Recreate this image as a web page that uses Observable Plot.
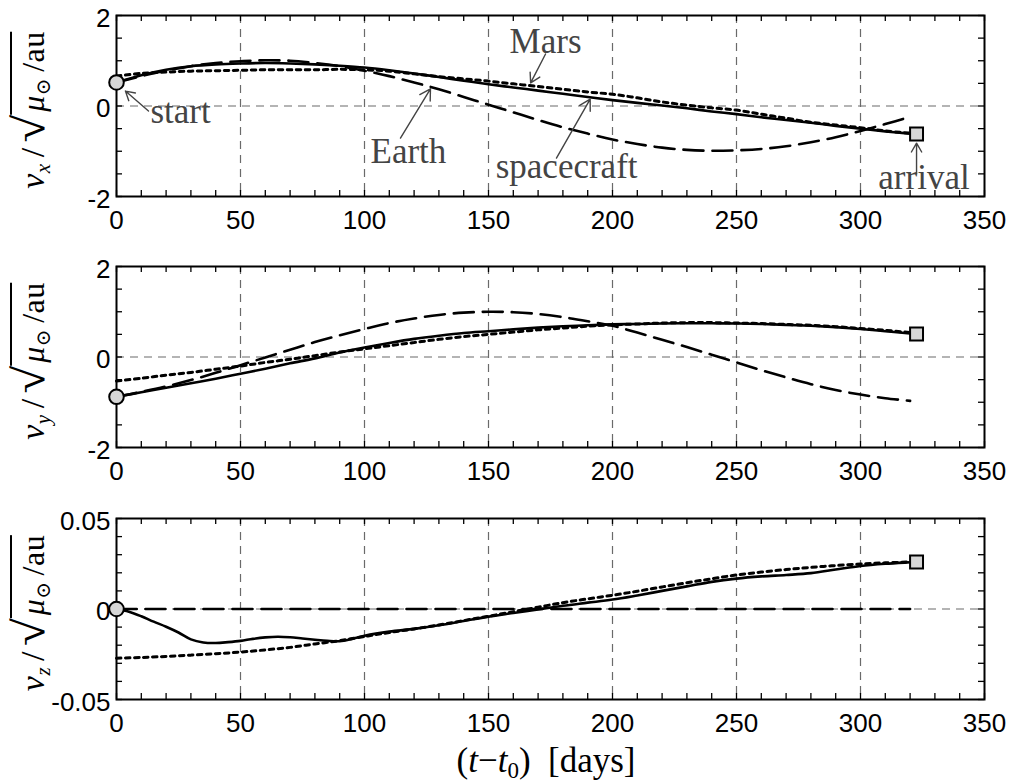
<!DOCTYPE html>
<html>
<head>
<meta charset="utf-8">
<script src="https://cdn.jsdelivr.net/npm/d3@7"></script>
<script src="https://cdn.jsdelivr.net/npm/@observablehq/plot@0.6"></script>
<style>
  body { margin: 0; background: #fff; }
  #wrap { position: relative; width: 1013px; height: 782px; background: #fff; overflow: hidden; }
  .panel { position: absolute; left: 0; }
  .ylab { position: absolute; font-family: "Liberation Serif", "DejaVu Serif", serif; font-size: 32px;
          white-space: nowrap; line-height: 1; transform: translate(-50%, -50%) rotate(-90deg); color: #000; letter-spacing: 0.5px; }
  .ylab .v { font-style: italic; font-size: 34px; }
  .ylab .s { font-style: italic; font-size: 21px; vertical-align: -6px; }
  .ylab .sl { font-size: 34px; margin: 0 7px 0 6px; }
  .ylab .rad { font-size: 44px; display: inline-block; transform: scaleX(1.15); margin-right: 1px; }
  .ylab .ov { border-top: 2px solid #000; padding-top: 3px; padding-left: 3px; }
  .ylab .mu { font-style: italic; }
  .ylab .sun { font-size: 20px; vertical-align: -6px; margin-right: 6px; }
  .xlab { position: absolute; font-family: "Liberation Serif", "DejaVu Serif", serif; font-size: 35px;
          white-space: nowrap; line-height: 1; transform: translateX(-50%); color: #000; }
  .xlab i { font-style: italic; }
  .xlab sub { font-size: 23px; vertical-align: -6px; }
</style>
</head>
<body>
<div id="wrap"></div>
<script>
// ---------- data ----------
const days = [0,10,20,30,40,50,60,70,80,90,100,110,120,130,140,150,160,170,180,190,200,210,220,230,240,250,260,270,280,290,300,310,320];
const scDays = [0,10,20,30,40,50,60,70,80,90,100,110,120,130,140,150,160,170,180,190,200,210,220,230,240,250,260,270,280,290,300,310,320,322.6];

// v_x
const scVx    = [0.52,0.68,0.80,0.88,0.92,0.94,0.95,0.94,0.92,0.89,0.85,0.79,0.72,0.64,0.56,0.48,0.41,0.34,0.27,0.20,0.13,0.07,0.01,-0.05,-0.12,-0.18,-0.25,-0.31,-0.37,-0.44,-0.50,-0.56,-0.61,-0.62];
const earthVx = [0.52,0.66,0.78,0.88,0.95,0.99,1.01,1.00,0.95,0.88,0.78,0.66,0.52,0.37,0.20,0.03,-0.14,-0.31,-0.47,-0.61,-0.74,-0.84,-0.92,-0.97,-0.99,-0.98,-0.95,-0.89,-0.80,-0.69,-0.55,-0.40,-0.24];
const marsVx  = [0.66,0.72,0.75,0.77,0.78,0.79,0.80,0.80,0.80,0.81,0.80,0.77,0.71,0.65,0.60,0.55,0.49,0.43,0.37,0.31,0.26,0.18,0.09,0.02,-0.04,-0.09,-0.18,-0.27,-0.36,-0.42,-0.48,-0.55,-0.60];

// v_y
const scVy    = [-0.88,-0.78,-0.68,-0.58,-0.48,-0.37,-0.26,-0.14,-0.03,0.10,0.21,0.31,0.40,0.47,0.53,0.57,0.61,0.65,0.68,0.70,0.72,0.73,0.74,0.745,0.745,0.74,0.73,0.71,0.69,0.66,0.62,0.57,0.52,0.51];
const earthVy = [-0.88,-0.77,-0.65,-0.51,-0.35,-0.18,-0.01,0.16,0.33,0.48,0.62,0.75,0.85,0.93,0.98,1.00,0.99,0.95,0.88,0.79,0.69,0.54,0.38,0.22,0.05,-0.12,-0.29,-0.45,-0.60,-0.73,-0.83,-0.91,-0.97];
const marsVy  = [-0.53,-0.47,-0.40,-0.34,-0.27,-0.20,-0.12,-0.05,0.03,0.11,0.18,0.25,0.32,0.39,0.45,0.50,0.55,0.60,0.64,0.68,0.71,0.73,0.75,0.76,0.76,0.75,0.74,0.72,0.70,0.67,0.63,0.59,0.54];

// v_z
const vzScDays = [0,5,10,15,20,25,30,35,40,45,50,55,60,65,70,75,80,85,90,95,100,110,120,130,140,150,160,170,180,190,200,210,220,230,240,250,260,270,280,290,300,310,320,322.6];
const scVz    = [0,-0.0015,-0.004,-0.007,-0.0098,-0.013,-0.0168,-0.0185,-0.0188,-0.0183,-0.0176,-0.0165,-0.0157,-0.0153,-0.0156,-0.0163,-0.017,-0.0176,-0.0178,-0.0165,-0.0148,-0.0125,-0.011,-0.009,-0.0066,-0.0042,-0.0022,-0.0002,0.0018,0.0035,0.0052,0.0075,0.010,0.0125,0.015,0.0168,0.018,0.0188,0.0198,0.0218,0.0238,0.025,0.0258,0.026];
const earthVz = [0,0,0,0,0,0,0,0,0,0,0,0,0,0,0,0,0,0,0,0,0,0,0,0,0,0,0,0,0,0,0,0,0];
const marsVz  = [-0.0272,-0.0268,-0.0262,-0.0255,-0.0247,-0.0238,-0.0226,-0.0212,-0.0193,-0.0175,-0.0152,-0.013,-0.011,-0.0088,-0.0064,-0.004,-0.0015,0.001,0.0035,0.0056,0.0076,0.0098,0.0122,0.0145,0.0167,0.0188,0.0204,0.0218,0.023,0.024,0.0249,0.0255,0.026];

// ticks
const xMajor = [0,50,100,150,200,250,300,350];
const xMinor = [0,10,20,30,40,50,60,70,80,90,100,110,120,130,140,150,160,170,180,190,200,210,220,230,240,250,260,270,280,290,300,310,320,330,340,350];
const xGrid  = [50,100,150,200,250,300];
const yTicksA = [-2,0,2];
const yMinorA = [-2,-1.5,-1,-0.5,0,0.5,1,1.5,2];
const yTicksB = [-0.05,0,0.05];
const yMinorB = [-0.05,-0.04,-0.03,-0.02,-0.01,0,0.01,0.02,0.03,0.04,0.05];

// annotations (panel 1)
const annLabels = ["start","Earth","spacecraft","Mars","arrival"];
const annTextX  = [13.7, 117.7, 181.5, 173, 325.6];
const annTextY  = [-0.13, -1.02, -1.35, 1.41, -1.59];
const annAnchor = ["start","middle","middle","middle","middle"];
const annFromX  = [12.9, 114.5, 177.4, 173, 322.6];
const annFromY  = [-0.11, -0.71, -1.15, 1.15, -1.50];
const annToX    = [3.6, 126.6, 191, 167, 322.6];
const annToY    = [0.33, 0.38, 0.15, 0.51, -0.82];

// ---------- drawing ----------
const tbl = (xs, ys) => xs.map((d, i) => ({day: d, v: ys[i]}));
const FH = 181, FW = 868, TK = 6;
const gridStyle = {stroke: "#6a6a6a", strokeWidth: 1.2, strokeDasharray: "8,6"};
const tickStyle = {stroke: "#000", strokeWidth: 1.3};

function panel(sc, earth, mars, scX, yDomain, yTicks, yMinor, extra) {
  const scData = tbl(scX, sc);
  return Plot.plot({
    width: 1013, height: 241,
    marginTop: 15, marginBottom: 45, marginLeft: 116, marginRight: 29,
    x: {domain: [0, 350], label: null},
    y: {domain: yDomain, label: null},
    style: {fontFamily: '"Liberation Sans", Arial, sans-serif', background: "transparent", overflow: "visible", color: "#000"},
    marks: [
      Plot.ruleX(xGrid, gridStyle),
      Plot.ruleY([0], gridStyle),
      Plot.ruleX(xMinor, {...tickStyle, insetTop: FH - TK}),
      Plot.ruleX(xMinor, {...tickStyle, insetBottom: FH - TK}),
      Plot.ruleY(yMinor, {...tickStyle, insetRight: FW - TK}),
      Plot.ruleY(yMinor, {...tickStyle, insetLeft: FW - TK}),
      Plot.line(tbl(days, earth), {x: "day", y: "v", stroke: "#000", strokeWidth: 2.6, strokeDasharray: "20,9", curve: "catmull-rom"}),
      Plot.line(tbl(days, mars), {x: "day", y: "v", stroke: "#000", strokeWidth: 3, strokeDasharray: "4.5,4.5", curve: "catmull-rom"}),
      Plot.line(scData, {x: "day", y: "v", stroke: "#000", strokeWidth: 2.6, curve: "catmull-rom"}),
      Plot.frame({stroke: "#000", strokeWidth: 2}),
      Plot.axisX(xMajor, {tickSize: 0, tickPadding: 14, fontSize: 26, tickFormat: d => String(d), label: null, fill: "#000"}),
      Plot.axisY(yTicks, {tickSize: 0, tickPadding: 6, fontSize: 26, tickFormat: d => String(d), label: null, fill: "#000", dy: 3}),
      ...extra,
      Plot.dot([scData[0]], {x: "day", y: "v", r: 7.3, fill: "#d6d6d6", stroke: "#000", strokeWidth: 2}),
      Plot.dot([scData[scData.length - 1]], {x: "day", y: "v", symbol: "square", r: 7.3, fill: "#d6d6d6", stroke: "#000", strokeWidth: 2})
    ]
  });
}

const ann = annLabels.map((t, i) => ({t, tx: annTextX[i], ty: annTextY[i], a: annAnchor[i],
  x1: annFromX[i], y1: annFromY[i], x2: annToX[i], y2: annToY[i]}));
const annFont = {fontFamily: '"Liberation Serif", serif', fontSize: 35, fill: "#444"};
const annMarks = [
  Plot.arrow(ann, {x1: "x1", y1: "y1", x2: "x2", y2: "y2", stroke: "#444", strokeWidth: 1.4, headLength: 13, headAngle: 60}),
  Plot.text(ann.filter(d => d.a === "start"), {x: "tx", y: "ty", text: "t", textAnchor: "start", ...annFont}),
  Plot.text(ann.filter(d => d.a === "middle"), {x: "tx", y: "ty", text: "t", textAnchor: "middle", ...annFont})
];

const wrap = document.getElementById("wrap");
const tops = [0, 251, 503];
const charts = [
  panel(scVx, earthVx, marsVx, scDays, [-2, 2], yTicksA, yMinorA, annMarks),
  panel(scVy, earthVy, marsVy, scDays, [-2, 2], yTicksA, yMinorA, []),
  panel(scVz, earthVz, marsVz, vzScDays, [-0.05, 0.05], yTicksB, yMinorB, [])
];
const subs = ["x", "y", "z"];
charts.forEach((c, i) => {
  const d = document.createElement("div");
  d.className = "panel";
  d.style.top = tops[i] + "px";
  d.appendChild(c);
  wrap.appendChild(d);
  const lab = document.createElement("div");
  lab.className = "ylab";
  lab.style.left = "31px";
  lab.style.top = (tops[i] + 110) + "px";
  lab.innerHTML = `<span class="v">v</span><span class="s">${subs[i]}</span><span class="sl">/</span><span class="rad">√</span><span class="ov"><span class="mu">μ</span><span class="sun">⊙</span>/au</span>`;
  wrap.appendChild(lab);
});
const xl = document.createElement("div");
xl.className = "xlab";
xl.style.left = "546px";
xl.style.top = "743px";
xl.innerHTML = `(<i>t</i>−<i>t</i><sub>0</sub>)&nbsp;&nbsp;[days]`;
wrap.appendChild(xl);
</script>
</body>
</html>
